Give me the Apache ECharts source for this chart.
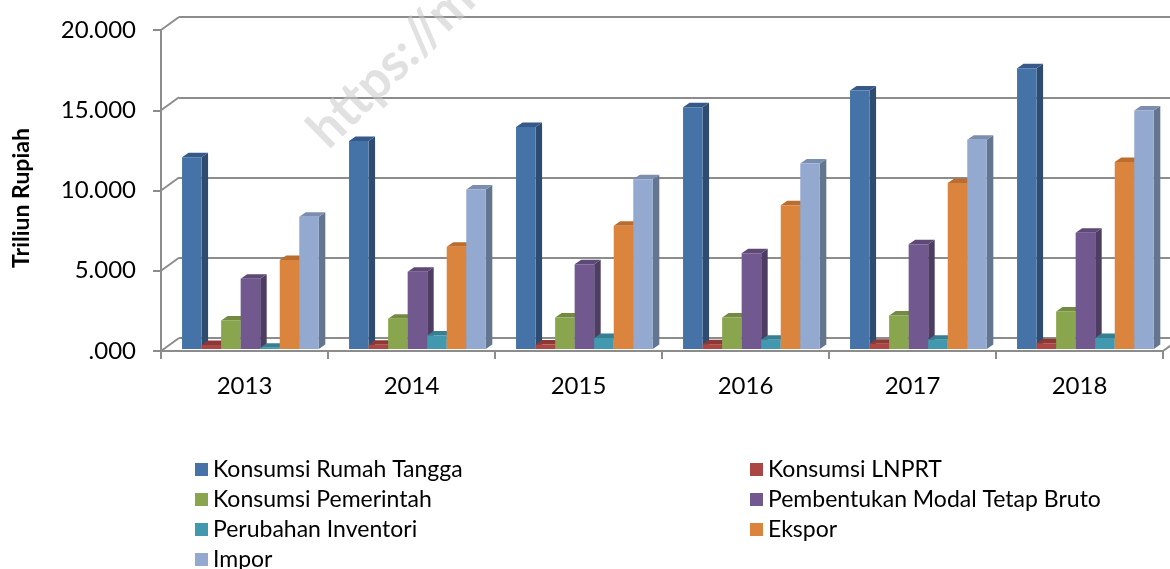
<!DOCTYPE html>
<html>
<head>
<meta charset="utf-8">
<script src="https://cdn.jsdelivr.net/npm/echarts@6/dist/echarts.min.js"></script>
<style>
html, body { margin: 0; padding: 0; background: #fff; }
#main { width: 1170px; height: 569px; }
</style>
</head>
<body>
<div id="main"></div>
<script>
// data (triliun rupiah)
var years = ['2013', '2014', '2015', '2016', '2017', '2018'];
var yTicks = [0, 5000, 10000, 15000, 20000];
var seriesNames = ['Konsumsi Rumah Tangga', 'Konsumsi LNPRT', 'Konsumsi Pemerintah',
  'Pembentukan Modal Tetap Bruto', 'Perubahan Inventori', 'Ekspor', 'Impor'];

var rumahTangga = [11940, 12960, 13830, 15070, 16100, 17490];
var lnprt       = [250, 260, 280, 300, 330, 360];
var pemerintah  = [1780, 1880, 1960, 1960, 2090, 2340];
var pmtb        = [4370, 4820, 5280, 5960, 6520, 7240];
var inventori   = [80, 847, 685, 580, 580, 685];
var ekspor      = [5550, 6370, 7680, 8960, 10350, 11650];
var impor       = [8240, 9940, 10580, 11550, 13040, 14860];

var allValues = [rumahTangga, lnprt, pemerintah, pmtb, inventori, ekspor, impor];

// excel 2007 palette: front / side / top
var frontColors = ['#4573A7', '#AA4643', '#89A54E', '#71588F', '#4198AF', '#DB843D', '#93A9CF'];
var sideColors  = ['#2E4C70', '#7B2F2D', '#627737', '#4E3D63', '#2D6C7D', '#A65E24', '#63758F'];
var topColors   = ['#36598A', '#8E3835', '#738B40', '#5D4876', '#367F93', '#BB6D2E', '#7B8EAF'];

var gridColor = '#8c8c8c';
var DX = 6.5, DY = 4.5;       // bar depth
var WALL_DX = 18, WALL_DY = 13; // back wall offset

var chart = echarts.init(document.getElementById('main'));

function bar3d(k) {
  return function (params, api) {
    var idx = api.value(0), v = api.value(1);
    var base = api.coord([idx, 0]);
    var top = api.coord([idx, v]);
    var band = api.size([1, 0])[0];
    var w = band * 0.117;
    var x0 = base[0] - band / 2 + band * 0.126 + k * w;
    var yb = base[1] - 2, yt = top[1] - 2;
    return {
      type: 'group',
      children: [
        { type: 'polygon', shape: { points: [[x0 + w, yt], [x0 + w + DX, yt - DY], [x0 + w + DX, yb - DY], [x0 + w, yb]] },
          style: { fill: sideColors[k] } },
        { type: 'polygon', shape: { points: [[x0, yt], [x0 + DX, yt - DY], [x0 + w + DX, yt - DY], [x0 + w, yt]] },
          style: { fill: topColors[k] } },
        { type: 'rect', shape: { x: x0, y: yt, width: w, height: yb - yt },
          style: { fill: frontColors[k] } }
      ]
    };
  };
}

// diagonal edges of the side wall / floor
function wallEdges(params, api) {
  var t = api.value(1);
  var p = api.coord([0, t]);
  var band = api.size([1, 0])[0];
  var left = p[0] - band / 2;
  var kids = [{ type: 'line', shape: { x1: left, y1: p[1], x2: left + WALL_DX, y2: p[1] - WALL_DY },
    style: { stroke: gridColor, lineWidth: 2 } }];
  if (t === 0) {
    var right = left + band * years.length;
    kids.push({ type: 'line', shape: { x1: right, y1: p[1], x2: right + WALL_DX, y2: p[1] - WALL_DY },
      style: { stroke: gridColor, lineWidth: 2 } });
  }
  return { type: 'group', children: kids };
}

var series = allValues.map(function (vals, k) {
  return {
    name: seriesNames[k],
    type: 'custom',
    xAxisIndex: 0,
    yAxisIndex: 0,
    itemStyle: { color: frontColors[k] },
    renderItem: bar3d(k),
    encode: { x: 0, y: 1 },
    data: vals.map(function (v, i) { return [i, v]; }),
    z: 3
  };
});

series.push({
  type: 'custom',
  silent: true,
  xAxisIndex: 0,
  yAxisIndex: 0,
  renderItem: wallEdges,
  encode: { x: 0, y: 1 },
  data: yTicks.map(function (t) { return [0, t]; }),
  z: 1
});

var legendText = { fontFamily: 'Lato', fontSize: 23, color: '#000' };

var option = {
  backgroundColor: '#fff',
  animation: false,
  textStyle: { fontFamily: 'Lato' },
  grid: [
    { left: 161, right: 7, top: 30, bottom: 218 },
    { left: 161 + WALL_DX, right: -20, top: 30 - WALL_DY, bottom: 218 + WALL_DY }
  ],
  xAxis: [
    {
      type: 'category', gridIndex: 0, data: years, boundaryGap: true,
      axisLine: { lineStyle: { color: gridColor, width: 2 } },
      axisTick: { show: true, length: 8, interval: 0, lineStyle: { color: gridColor, width: 2 } },
      axisLabel: { fontFamily: 'Lato', fontSize: 24, color: '#000', margin: 23 },
      splitLine: { show: false }
    },
    { type: 'category', gridIndex: 1, data: years, show: false }
  ],
  yAxis: [
    {
      type: 'value', gridIndex: 0, min: 0, max: 20000, interval: 5000,
      axisLine: { show: true, lineStyle: { color: gridColor, width: 2 } },
      axisTick: { show: true, length: 8, lineStyle: { color: gridColor, width: 2 } },
      axisLabel: {
        fontFamily: 'Lato', fontSize: 24, color: '#000', margin: 25,
        formatter: function (v) { return v === 0 ? '.000' : (v / 1000) + '.000'; }
      },
      splitLine: { show: false }
    },
    {
      type: 'value', gridIndex: 1, min: 0, max: 20000, interval: 5000,
      axisLine: { show: false }, axisTick: { show: false }, axisLabel: { show: false },
      splitLine: { show: true, lineStyle: { color: gridColor, width: 2 } }
    }
  ],
  legend: [
    {
      data: [seriesNames[0], seriesNames[2], seriesNames[4], seriesNames[6]],
      orient: 'vertical', left: 195, top: 458, height: 140, padding: 0,
      itemWidth: 13, itemHeight: 13, itemGap: 7,
      icon: 'rect', selectedMode: false, textStyle: legendText
    },
    {
      data: [seriesNames[1], seriesNames[3], seriesNames[5]],
      orient: 'vertical', left: 750, top: 458, height: 140, padding: 0,
      itemWidth: 13, itemHeight: 13, itemGap: 7,
      icon: 'rect', selectedMode: false, textStyle: legendText
    }
  ],
  graphic: [
    {
      type: 'text', silent: true, z: 10,
      x: 22, y: 198, rotation: Math.PI / 2,
      style: { text: 'Triliun Rupiah', font: 'bold 23px Lato', fill: '#000', align: 'center', verticalAlign: 'middle' }
    },
    {
      type: 'text', silent: true, z: 10,
      x: 335, y: 157, rotation: 44.6 * Math.PI / 180,
      style: { text: 'https://m', font: 'bold 52px Lato', fill: 'rgba(200,200,200,0.55)', verticalAlign: 'bottom' }
    }
  ],
  series: series
};

chart.setOption(option);
</script>
</body>
</html>
